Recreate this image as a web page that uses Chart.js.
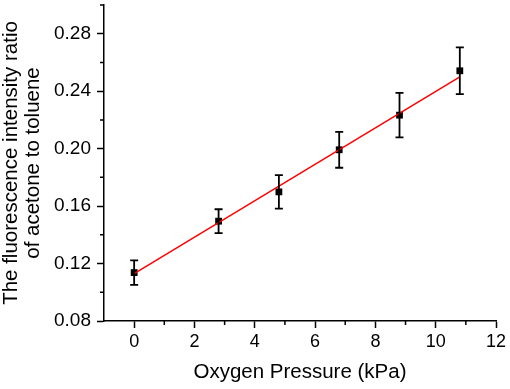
<!DOCTYPE html>
<html>
<head>
<meta charset="utf-8">
<script src="https://cdn.jsdelivr.net/npm/chart.js@4.4.1/dist/chart.umd.min.js"></script>
<style>
  html, body { margin: 0; padding: 0; background: #fff; }
  #chart { display: block; }
</style>
</head>
<body>
<canvas id="chart" width="510" height="389"></canvas>
<script>
// values
const pressure = [0, 2.8, 4.8, 6.8, 8.8, 10.8];
const ratio = [0.1137, 0.1495, 0.1699, 0.1992, 0.2233, 0.2542];
const ratioErr = [0.0085, 0.0083, 0.0116, 0.0125, 0.0155, 0.0163];
const fitX = [0, 10.8];
const fitY = [0.113, 0.250];

const xTicks = [0, 2, 4, 6, 8, 10, 12];
const xMinorTicks = [1, 3, 5, 7, 9, 11];
const yTicks = [0.08, 0.12, 0.16, 0.20, 0.24, 0.28];
const yMinorTicks = [0.10, 0.14, 0.18, 0.22, 0.26, 0.30];

const FONT = "'Liberation Sans', Arial, sans-serif";

const errorBars = {
    id: 'errorBars',
    afterDatasetsDraw(chart) {
        const ctx = chart.ctx;
        const xs = chart.scales.x, ys = chart.scales.y;
        ctx.save();
        ctx.strokeStyle = '#000';
        ctx.lineWidth = 1.8;
        pressure.forEach(function (p, i) {
            const x = xs.getPixelForValue(p);
            const top = ys.getPixelForValue(ratio[i] + ratioErr[i]);
            const bot = ys.getPixelForValue(ratio[i] - ratioErr[i]);
            ctx.beginPath();
            ctx.moveTo(x, top); ctx.lineTo(x, bot);
            ctx.moveTo(x - 4, top); ctx.lineTo(x + 4, top);
            ctx.moveTo(x - 4, bot); ctx.lineTo(x + 4, bot);
            ctx.stroke();
        });
        ctx.restore();
    }
};

// short minor ticks between the labelled ones
const minorTicks = {
    id: 'minorTicks',
    afterDraw(chart) {
        const ctx = chart.ctx;
        const xs = chart.scales.x, ys = chart.scales.y;
        const area = chart.chartArea;
        ctx.save();
        ctx.strokeStyle = '#000';
        ctx.lineWidth = 1.5;
        ctx.beginPath();
        xMinorTicks.forEach(function (v) {
            const x = xs.getPixelForValue(v);
            ctx.moveTo(x, area.bottom); ctx.lineTo(x, area.bottom + 4);
        });
        yMinorTicks.forEach(function (v) {
            const y = ys.getPixelForValue(v);
            ctx.moveTo(area.left - 4, y); ctx.lineTo(area.left, y);
        });
        ctx.stroke();
        ctx.restore();
    }
};

new Chart(document.getElementById('chart'), {
    type: 'scatter',
    data: {
        datasets: [{
            type: 'line',
            label: 'Fit',
            data: fitX.map((x, i) => ({x: x, y: fitY[i]})),
            borderColor: '#ff0000',
            borderWidth: 1.5,
            pointRadius: 0,
            fill: false
        }, {
            label: 'Ratio',
            data: pressure.map((x, i) => ({x: x, y: ratio[i]})),
            pointStyle: 'rect',
            pointRadius: 4.8,
            pointBorderWidth: 0,
            backgroundColor: '#000',
            borderColor: '#000'
        }]
    },
    options: {
        responsive: false,
        animation: false,
        layout: {
            padding: {left: 0, top: 5, right: 14, bottom: 0}
        },
        plugins: {
            legend: {display: false},
            tooltip: {enabled: false}
        },
        scales: {
            x: {
                type: 'linear',
                min: -1,
                max: 12,
                afterBuildTicks: function (scale) {
                    scale.ticks = xTicks.map(v => ({value: v}));
                },
                afterFit: function (scale) {
                    scale.height = 68;
                    scale.paddingLeft = 0;
                    scale.paddingRight = 0;
                },
                ticks: {
                    color: '#000',
                    padding: 3,
                    maxRotation: 0,
                    font: {family: FONT, size: 18},
                    callback: v => String(v)
                },
                grid: {
                    drawOnChartArea: false,
                    tickLength: 7,
                    tickColor: '#000',
                    tickWidth: 1.5
                },
                border: {color: '#000', width: 1.5},
                title: {
                    display: true,
                    text: 'Oxygen Pressure (kPa)',
                    color: '#000',
                    font: {family: FONT, size: 20.5},
                    padding: {top: 4, bottom: 4}
                }
            },
            y: {
                min: 0.08,
                max: 0.30,
                afterBuildTicks: function (scale) {
                    scale.ticks = yTicks.map(v => ({value: v}));
                },
                afterFit: function (scale) {
                    scale.width = 104;
                    scale.paddingTop = 0;
                    scale.paddingBottom = 0;
                },
                ticks: {
                    color: '#000',
                    padding: 6,
                    font: {family: FONT, size: 19},
                    callback: v => v.toFixed(2)
                },
                grid: {
                    drawOnChartArea: false,
                    tickLength: 7,
                    tickColor: '#000',
                    tickWidth: 1.5
                },
                border: {color: '#000', width: 1.5},
                title: {
                    display: true,
                    text: ['The fluorescence intensity ratio', 'of acetone to toluene'],
                    color: '#000',
                    font: {family: FONT, size: 20.5, lineHeight: 1.1},
                    padding: 0
                }
            }
        }
    },
    plugins: [errorBars, minorTicks]
});
</script>
</body>
</html>
